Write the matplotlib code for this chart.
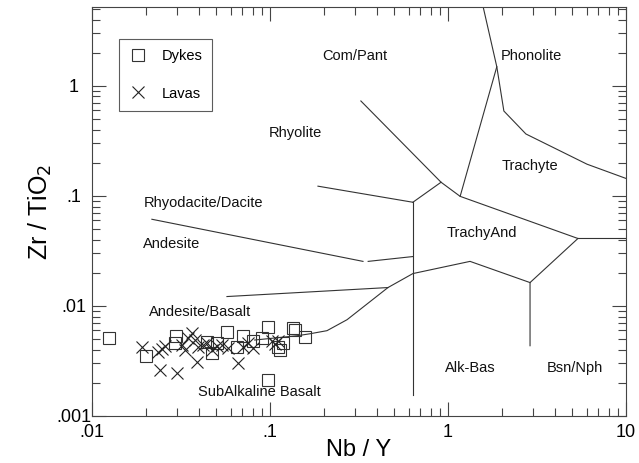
import matplotlib
matplotlib.use("Agg")
import matplotlib.pyplot as plt
from matplotlib.ticker import FixedLocator, FixedFormatter, LogLocator, NullFormatter

plt.rcParams['font.family'] = ['Liberation Sans', 'DejaVu Sans']

# Sample data: Nb/Y and Zr/TiO2
dykes_nby = [0.0125, 0.0201, 0.0296, 0.0292, 0.0443, 0.0472, 0.0504, 0.0572, 0.0650, 0.0705,
             0.0802, 0.0903, 0.0975, 0.0975, 0.111, 0.114, 0.118, 0.135, 0.138, 0.157]
dykes_zrti = [0.00514, 0.00352, 0.00536, 0.00463, 0.00473, 0.00375, 0.00463, 0.00583, 0.00426, 0.00536,
              0.00483, 0.00514, 0.00645, 0.00213, 0.00426, 0.00400, 0.00463, 0.00634, 0.00608, 0.00525]

lavas_nby = [0.0191, 0.0235, 0.0247, 0.0257, 0.0241, 0.0300, 0.0320, 0.0346, 0.0365, 0.0379,
             0.0394, 0.0389, 0.0420, 0.0443, 0.0472, 0.0504, 0.0537, 0.0581, 0.0661, 0.0705,
             0.0752, 0.0802, 0.1026, 0.1067, 0.1109, 0.0333]
lavas_zrti = [0.00426, 0.00383, 0.00408, 0.00435, 0.00262, 0.00247, 0.00444, 0.00514, 0.00571, 0.00493,
              0.00426, 0.00311, 0.00444, 0.00463, 0.00400, 0.00435, 0.00444, 0.00417, 0.00304, 0.00426,
              0.00463, 0.00417, 0.00483, 0.00453, 0.00483, 0.00400]

# Field boundaries (Nb/Y, Zr/TiO2 vertices)
boundaries = [
    [(1.57, 5.35), (1.88, 1.49), (2.06, 0.59), (2.74, 0.365), (6.04, 0.194), (10.0, 0.144)],
    [(1.88, 1.49), (1.17, 0.099)],
    [(0.324, 0.728), (0.914, 0.133), (1.17, 0.099), (5.37, 0.041), (10.0, 0.041)],
    [(0.914, 0.133), (0.635, 0.0875)],
    [(0.186, 0.1225), (0.635, 0.0875)],
    [(0.635, 0.0875), (0.635, 0.00155)],
    [(0.0217, 0.0613), (0.333, 0.0254)],
    [(0.356, 0.0254), (0.635, 0.0281)],
    [(0.0573, 0.01217), (0.460, 0.01469)],
    [(0.082, 0.0049), (0.142, 0.00536), (0.167, 0.00558), (0.209, 0.00596), (0.271, 0.0075),
     (0.460, 0.01469), (0.635, 0.01968), (1.33, 0.0254), (2.89, 0.0163)],
    [(5.37, 0.041), (2.89, 0.0163), (2.89, 0.00435)],
]

# Field names and label positions
field_names = ["Com/Pant", "Phonolite", "Rhyolite", "Trachyte", "Rhyodacite/Dacite",
               "TrachyAnd", "Andesite", "Andesite/Basalt", "SubAlkaline Basalt",
               "Alk-Bas", "Bsn/Nph"]
field_x = [0.30, 2.94, 0.138, 2.89, 0.0425, 1.55, 0.0281, 0.0405, 0.0866, 1.33, 5.16]
field_y = [1.87, 1.87, 0.37, 0.186, 0.087, 0.0456, 0.0362, 0.0089, 0.00166, 0.00274, 0.00274]

xlim = (0.01, 10)
ylim = (0.001, 5.2)

fig = plt.figure(figsize=(6.39, 4.63), dpi=100)
ax = fig.add_axes([92 / 639, 1 - 416 / 463, (626 - 92) / 639, (416 - 7) / 463])
ax.set_xscale('log')
ax.set_yscale('log')
ax.set_xlim(*xlim)
ax.set_ylim(*ylim)

line_color = '#333333'
for seg in boundaries:
    xs, ys = zip(*seg)
    ax.plot(xs, ys, color=line_color, lw=0.8, solid_joinstyle='miter', zorder=2)

for name, fx, fy in zip(field_names, field_x, field_y):
    ax.text(fx, fy, name, ha='center', va='center', fontsize=10.5, color='#111111')

ax.plot(dykes_nby, dykes_zrti, ls='none', marker='s', ms=9, mfc='none',
        mec='#333333', mew=0.8, label='Dykes', zorder=3)
ax.plot(lavas_nby, lavas_zrti, ls='none', marker='x', ms=9,
        mec='#222222', mew=0.8, label='Lavas', zorder=3)

leg = ax.legend(loc='upper left', bbox_to_anchor=(27 / 534, 1 - 32 / 409),
                borderaxespad=0, frameon=True, fancybox=False, edgecolor='#333333',
                fontsize=10.5, handletextpad=1.0, borderpad=0.7, labelspacing=1.6,
                handlelength=1.2)
leg.get_frame().set_linewidth(0.8)

ax.xaxis.set_major_locator(FixedLocator([0.01, 0.1, 1, 10]))
ax.xaxis.set_major_formatter(FixedFormatter(['.01', '.1', '1', '10']))
ax.yaxis.set_major_locator(FixedLocator([0.001, 0.01, 0.1, 1]))
ax.yaxis.set_major_formatter(FixedFormatter(['.001', '.01', '.1', '1']))
for axis in (ax.xaxis, ax.yaxis):
    axis.set_minor_locator(LogLocator(base=10, subs=range(2, 10)))
    axis.set_minor_formatter(NullFormatter())
ax.tick_params(which='both', direction='in', top=True, right=True, color='#444444',
               labelsize=13, width=0.8)
ax.tick_params(which='major', length=10)
ax.tick_params(which='minor', length=6)
ax.tick_params(axis='x', which='major', pad=6)
ax.tick_params(axis='y', which='major', pad=13)
for lbl in ax.get_yticklabels():
    lbl.set_horizontalalignment('center')
for sp in ax.spines.values():
    sp.set_color('#444444')
    sp.set_linewidth(0.8)

ax.set_xlabel('Nb / Y', fontsize=17)
ax.xaxis.set_label_coords(0.5, -0.057)
ax.set_ylabel('Zr / TiO$_2$', fontsize=18, labelpad=2)

fig.savefig('out.png', dpi=100)
